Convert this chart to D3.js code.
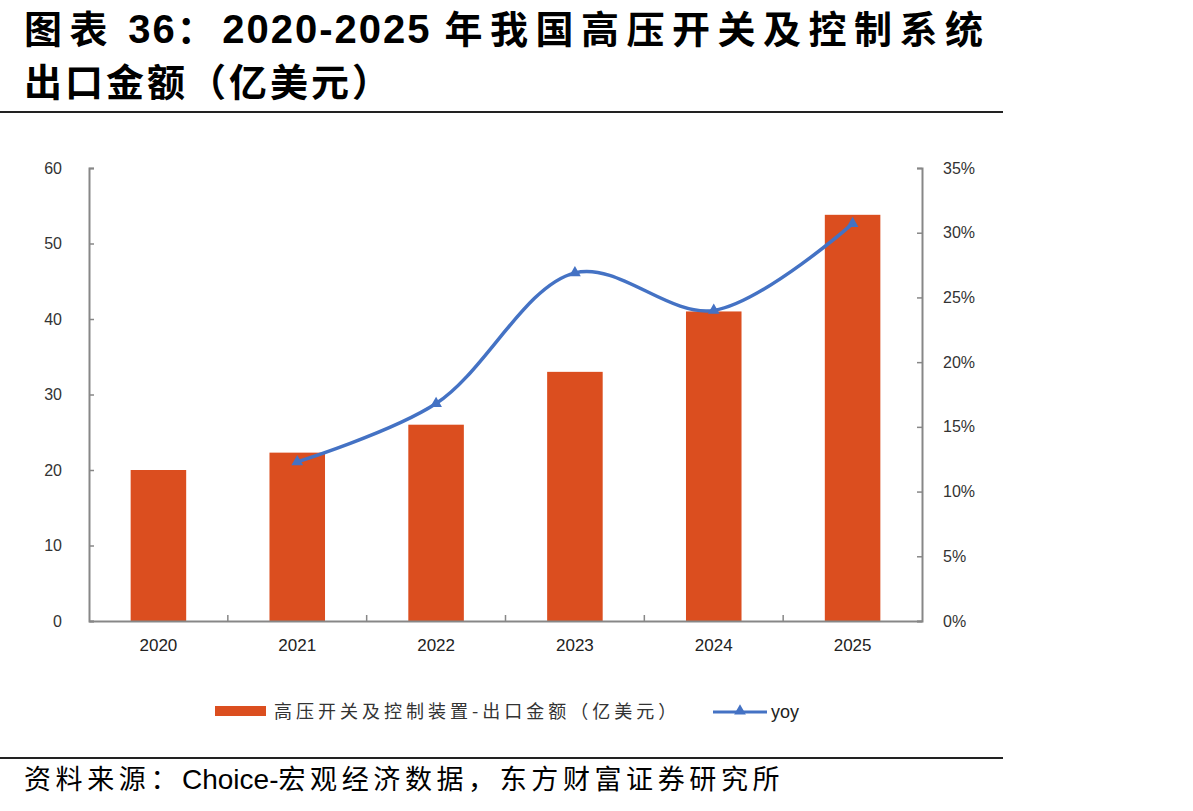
<!DOCTYPE html>
<html><head><meta charset="utf-8">
<script src="https://cdn.jsdelivr.net/npm/d3@7"></script>
<style>body{margin:0;background:#fff}</style>
</head><body>
<svg id="c" width="1193" height="811"></svg>
<script>
const categories = ["2020","2021","2022","2023","2024","2025"];
const exportValues = [20.0, 22.3, 26.0, 33.0, 41.0, 53.8];
const yoyYears = ["2021","2022","2023","2024","2025"];
const yoyValues = [0.123, 0.168, 0.269, 0.240, 0.307];
const leftTicks = [0,10,20,30,40,50,60];
const rightTicks = [0,0.05,0.10,0.15,0.20,0.25,0.30,0.35];
// title pieces: [text, isLatin]
const titleLine1 = [["图表",0],[" 36",1],["：",0],["2020-2025 ",1],["年我国高压开关及控制系统",0]];
const titleLine2 = "出口金额（亿美元）";
const barLabel = "高压开关及控制装置-出口金额（亿美元）";
const lineLabel = "yoy";
const sourceParts = [["资料来源：",0],["Choice-",1],["宏观经济数据，东方财富证券研究所",0]];

const svg = d3.select("#c");
const axisColor = "#878787", barColor = "#DB4E1F", lineColor = "#4472C4";
const tickFont = "'Liberation Sans', Arial, sans-serif";
const cjk = "'Noto Sans CJK SC', sans-serif";

// title
const t1 = svg.append("text").attr("x",24).attr("y",43).attr("font-weight","bold").attr("fill","#000");
t1.selectAll("tspan").data(titleLine1).join("tspan")
  .attr("font-family",d=>d[1]?tickFont:cjk)
  .attr("font-size",d=>d[1]?40:38)
  .attr("letter-spacing",d=>d[1]?2:7.5)
  .text(d=>d[0]);
svg.append("text").attr("x",24).attr("y",96).attr("font-weight","bold").attr("fill","#000")
  .attr("font-family",cjk).attr("font-size",38)
  .attr("textLength",366).attr("lengthAdjust","spacing").text(titleLine2);
svg.append("line").attr("x1",0).attr("x2",1003).attr("y1",112).attr("y2",112)
  .attr("stroke","#222").attr("stroke-width",2);

const L = 89, R = 922, T = 168, B = 621;
const x = d3.scaleBand().domain(categories).range([L,R]).paddingInner(0.6).paddingOuter(0.3);
const xb = d3.scaleBand().domain(categories).range([L,R]);
const yL = d3.scaleLinear().domain([0,60]).range([B,T]);
const yR = d3.scaleLinear().domain([0,0.35]).range([B,T]);

// bars
svg.append("g").selectAll("rect").data(categories).join("rect")
  .attr("x", d=>x(d)).attr("width", x.bandwidth())
  .attr("y", (d,i)=>yL(exportValues[i])).attr("height",(d,i)=>B-yL(exportValues[i]))
  .attr("fill", barColor);

// left axis
const gl = svg.append("g").attr("transform",`translate(${L},0)`)
  .call(d3.axisLeft(yL).tickValues(leftTicks).tickSize(-5).tickPadding(27).tickSizeOuter(-5));
gl.select(".domain").attr("stroke",axisColor).attr("stroke-width",2);
gl.selectAll(".tick line").attr("stroke",axisColor).attr("stroke-width",1.5);
gl.selectAll("text").attr("font-family",tickFont).attr("font-size",16).attr("fill","#333");

// right axis
const gr = svg.append("g").attr("transform",`translate(${R},0)`)
  .call(d3.axisRight(yR).tickValues(rightTicks).tickSize(-5).tickPadding(21).tickSizeOuter(-5)
    .tickFormat(d3.format(".0%")));
gr.select(".domain").attr("stroke",axisColor).attr("stroke-width",2);
gr.selectAll(".tick line").attr("stroke",axisColor).attr("stroke-width",1.5);
gr.selectAll("text").attr("font-family",tickFont).attr("font-size",16).attr("fill","#333");

// x axis
const gx = svg.append("g").attr("transform",`translate(0,${B})`)
  .call(d3.axisBottom(xb).tickSize(0).tickPadding(18));
gx.select(".domain").attr("stroke",axisColor).attr("stroke-width",2);
gx.selectAll("text").attr("font-family",tickFont).attr("font-size",17).attr("fill","#222");
svg.append("g").selectAll("line").data(categories.slice(1)).join("line")
  .attr("x1",d=>xb(d)).attr("x2",d=>xb(d)).attr("y1",B).attr("y2",B-6)
  .attr("stroke",axisColor).attr("stroke-width",1.5);

// yoy line
const cx = d=>xb(d)+xb.bandwidth()/2;
const line = d3.line().x((d,i)=>cx(yoyYears[i])).y(d=>yR(d)).curve(d3.curveCatmullRom.alpha(0.5));
svg.append("path").datum(yoyValues).attr("d",line).attr("fill","none")
  .attr("stroke",lineColor).attr("stroke-width",3.5);
const tri = d3.symbol().type(d3.symbolTriangle).size(60);
svg.append("g").selectAll("path").data(yoyValues).join("path")
  .attr("d",tri).attr("transform",(d,i)=>`translate(${cx(yoyYears[i])},${yR(d)})`)
  .attr("fill",lineColor);

// legend
const lg = svg.append("g");
lg.append("rect").attr("x",215).attr("y",706).attr("width",51).attr("height",10).attr("fill",barColor);
lg.append("text").attr("x",274).attr("y",718).attr("font-family",cjk).attr("font-size",18)
  .attr("letter-spacing",4).attr("fill","#333").text(barLabel);
lg.append("line").attr("x1",713).attr("x2",767).attr("y1",712).attr("y2",712)
  .attr("stroke",lineColor).attr("stroke-width",3);
lg.append("path").attr("d",tri).attr("transform","translate(740,711)").attr("fill",lineColor);
lg.append("text").attr("x",771).attr("y",718).attr("font-family",tickFont).attr("font-size",18)
  .attr("fill","#222").text(lineLabel);

// footer
svg.append("line").attr("x1",0).attr("x2",1003).attr("y1",758).attr("y2",758)
  .attr("stroke","#222").attr("stroke-width",2);
const ft = svg.append("text").attr("x",24).attr("y",789).attr("fill","#000");
ft.selectAll("tspan").data(sourceParts).join("tspan")
  .attr("font-family",d=>d[1]?tickFont:cjk)
  .attr("font-size",d=>d[1]?28:27)
  .attr("letter-spacing",d=>d[1]?0:4.6)
  .text(d=>d[0]);
</script>
</body></html>
